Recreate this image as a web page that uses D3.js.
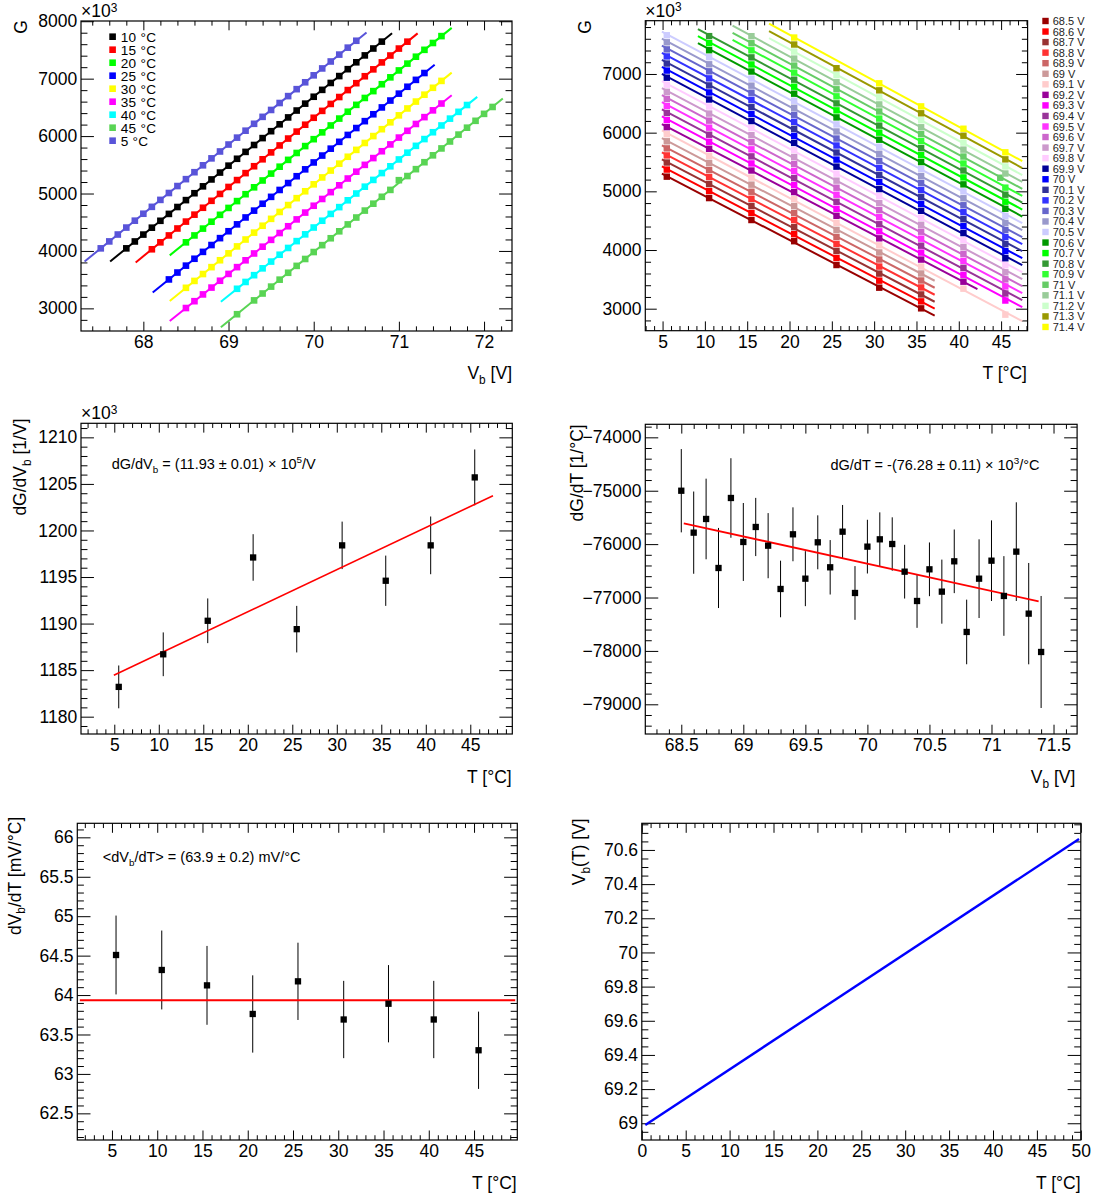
<!DOCTYPE html>
<html><head><meta charset="utf-8">
<script src="https://cdn.jsdelivr.net/npm/d3@7"></script>
<style>body{margin:0;background:#fff}svg{display:block}</style>
</head><body>
<svg id="c" width="1094" height="1198"></svg>
<script>
// ===================== DATA =====================
// temperatures (nominal labels and measured values, °C)
const tempNominal  = [5, 10, 15, 20, 25, 30, 35, 40, 45];
const tempMeasured = [5.5, 10.5, 15.5, 20.55, 25.55, 30.6, 35.55, 40.55, 45.5];
// first bias voltage of each temperature scan (step 0.1 V)
const tempStartV   = [67.5, 67.8, 68.1, 68.5, 68.3, 68.5, 68.5, 69.1, 69.1];
// gain G (x10^3) measured along each scan
const gainT5  = [4045,4166,4286,4407,4527,4648,4768,4889,5009,5130,5250,5371,5491,5612,5732,5853,5973,6094,6214,6335,6455,6576,6696,6817,6937,7058,7178,7299,7419,7540,7660];
const gainT10 = [4045,4165,4285,4405,4525,4645,4765,4885,5005,5125,5245,5365,5485,5605,5725,5845,5965,6085,6205,6325,6445,6565,6685,6805,6925,7045,7165,7285,7405,7525,7645];
const gainT15 = [4029,4150,4270,4391,4511,4632,4752,4873,4993,5114,5234,5355,5475,5596,5716,5837,5957,6078,6198,6319,6439,6560,6680,6801,6921,7042,7162,7283,7403,7524,7644];
const gainT20 = [4150,4270,4389,4509,4629,4749,4868,4988,5108,5227,5347,5467,5586,5706,5826,5946,6065,6185,6305,6424,6544,6664,6783,6903,7023,7143,7262,7382,7502,7621,7741];
const gainT25 = [3504,3624,3744,3864,3984,4103,4223,4343,4463,4583,4702,4822,4942,5062,5182,5301,5421,5541,5661,5781,5900,6020,6140,6260,6380,6499,6619,6739,6859,6979,7098];
const gainT30 = [3358,3478,3598,3718,3838,3958,4079,4199,4319,4439,4559,4679,4799,4919,5039,5160,5280,5400,5520,5640,5760,5880,6000,6120,6240,6361,6481,6601,6721,6841,6961];
const gainT35 = [3006,3125,3243,3362,3481,3600,3718,3837,3956,4074,4193,4312,4430,4549,4668,4787,4905,5024,5143,5261,5380,5499,5617,5736,5855,5974,6092,6211,6330,6448,6567];
const gainT40 = [3341,3460,3578,3697,3815,3934,4052,4171,4289,4408,4526,4645,4763,4882,5000,5119,5237,5356,5474,5593,5711,5830,5948,6067,6185,6304,6422,6541];
const gainT45 = [2898,null,3139,3259,3379,3500,3620,3740,3860,3981,4101,4221,4342,4462,4582,4703,4823,4943,5063,5232,5304,5424,5545,5665,5785,5906,6026,6146,6266,6387,6507];
const gainByTemp = [gainT5, gainT10, gainT15, gainT20, gainT25, gainT30, gainT35, gainT40, gainT45];
// one point taken at a deviating temperature
const overrideTempIdx = 8, overrideV = 71.0, overrideT = 44.9;
// fit ranges
const scanFitLoExt = 0.19, scanFitHiExt = 0.12;          // V beyond first/last point
const vFitLoByFirstTemp = [4.92, 9.18, 13.27, 17.58];     // °C
const vFitHiByLastTemp  = {6: 37.15, 7: 42.2, 8: 47.5};   // °C

// bias voltages of panel 2
const voltages = [68.5,68.6,68.7,68.8,68.9,69.0,69.1,69.2,69.3,69.4,69.5,69.6,69.7,69.8,69.9,70.0,70.1,70.2,70.3,70.4,70.5,70.6,70.7,70.8,70.9,71.0,71.1,71.2,71.3,71.4];
const voltageLabels = ["68.5 V","68.6 V","68.7 V","68.8 V","68.9 V","69 V","69.1 V","69.2 V","69.3 V","69.4 V","69.5 V","69.6 V","69.7 V","69.8 V","69.9 V","70 V","70.1 V","70.2 V","70.3 V","70.4 V","70.5 V","70.6 V","70.7 V","70.8 V","70.9 V","71 V","71.1 V","71.2 V","71.3 V","71.4 V"];

// panel 3: dG/dVb vs T
const slopeT    = [5.5, 10.5, 15.5, 20.6, 25.5, 30.6, 35.5, 40.55, 45.5];
const slopeGV   = [1183.2, 1186.7, 1190.3, 1197.1, 1189.4, 1198.4, 1194.6, 1198.4, 1205.7];
const slopeGVEr = [2.3, 2.35, 2.4, 2.5, 2.5, 2.55, 2.7, 3.1, 3.0];
const slopeGVFitRange = [4.95, 47.55];

// panel 4: dG/dT vs Vb
const slopeGT   = [-75000,-75785,-75529,-76447,-75136,-75960,-75679,-76029,-76840,-75816,-76647,-75966,-76434,-75767,-76915,-76047,-75910,-75998,-76516,-77065,-76472,-76890,-76322,-77645,-76647,-76310,-76971,-76141,-77302,-78020];
const slopeGTEr = [780,770,755,750,745,730,545,610,530,505,515,505,510,500,503,503,505,500,503,503,503,600,596,605,737,755,746,924,949,1049];
const slopeGTFitRange = [68.52, 71.38];

// panel 5: dVb/dT vs T
const dvdtT   = [5.45, 10.5, 15.5, 20.55, 25.55, 30.6, 35.55, 40.55, 45.5];
const dvdt    = [64.508, 64.318, 64.123, 63.76, 64.174, 63.69, 63.89, 63.69, 63.30];
const dvdtEr  = [0.5, 0.5, 0.5, 0.49, 0.49, 0.49, 0.49, 0.49, 0.49];
const dvdtFitRange = [1.45, 49.55];

// panel 6: Vb(T)
const vbCurveT = [0.4, 49.8];
const vbCurveV = [68.99, 70.664];

// ===================== STYLE =====================
const tempColors = ["#5954d9","#000000","#ff0000","#00ff00","#0000ff","#ffff00","#ff00ff","#00ffff","#59d454"];
const voltColors = ["#990000","#ff0000","#993333","#ff3333","#cc6666","#cc9999","#ffcccc","#990099","#ff00ff","#993399","#ff33ff","#cc66cc","#cc99cc","#ffccff","#000099","#0000ff","#333399","#3333ff","#6666cc","#9999cc","#ccccff","#009900","#00ff00","#339933","#33ff33","#66cc66","#99cc99","#ccffcc","#999900","#ffff00"];
const FONT = "'Liberation Sans', Arial, Helvetica, sans-serif";
const LBL = 17.5;

const svg = d3.select("#c").attr("font-family", FONT);
let clipN = 0;

function stepTicks(domain, step) {
  const lo = Math.ceil(domain[0] / step - 1e-7), hi = Math.floor(domain[1] / step + 1e-7);
  return d3.range(lo, hi + 1).map(k => +(k * step).toFixed(6));
}

function rich(sel, parts, size, supRaise) {
  const up = supRaise == null ? 0.4 : supRaise;
  let cur = 0;
  parts.forEach(p => {
    const [t, m] = Array.isArray(p) ? p : [p, 0];
    const target = m === 1 ? 0.28 * size : m === 2 ? -up * size : 0;
    const ts = sel.append("tspan").text(t).attr("font-size", m ? size * 0.68 : size);
    if (target - cur !== 0) ts.attr("dy", target - cur);
    cur = target;
  });
  return sel;
}

function panel(c) {
  const xs = d3.scaleLinear().domain(c.xd).range([c.x0, c.x1]);
  const ys = d3.scaleLinear().domain(c.yd).range([c.y1, c.y0]);
  const g = svg.append("g");
  const W = c.x1 - c.x0, H = c.y1 - c.y0;
  const xt = 0.03 * H, yt = 0.03 * W;
  const xMaj = stepTicks(c.xd, c.xMaj), xMin = stepTicks(c.xd, c.xMin).filter(v => !xMaj.some(m => Math.abs(m - v) < 1e-6));
  const yMaj = stepTicks(c.yd, c.yMaj), yMin = stepTicks(c.yd, c.yMin).filter(v => !yMaj.some(m => Math.abs(m - v) < 1e-6));
  const axes = [
    [d3.axisBottom(xs).tickValues(xMaj).tickSize(-xt).tickPadding(4.8).tickFormat(c.xFmt || (d => d)), `translate(0,${c.y1})`],
    [d3.axisBottom(xs).tickValues(xMin).tickSize(-xt / 2).tickFormat(""), `translate(0,${c.y1})`],
    [d3.axisTop(xs).tickValues(xMaj).tickSize(-xt).tickFormat(""), `translate(0,${c.y0})`],
    [d3.axisTop(xs).tickValues(xMin).tickSize(-xt / 2).tickFormat(""), `translate(0,${c.y0})`],
    [d3.axisLeft(ys).tickValues(yMaj).tickSize(-yt).tickPadding(3.8).tickFormat(c.yFmt || (d => d)), `translate(${c.x0},0)`],
    [d3.axisLeft(ys).tickValues(yMin).tickSize(-yt / 2).tickFormat(""), `translate(${c.x0},0)`],
    [d3.axisRight(ys).tickValues(yMaj).tickSize(-yt).tickFormat(""), `translate(${c.x1},0)`],
    [d3.axisRight(ys).tickValues(yMin).tickSize(-yt / 2).tickFormat(""), `translate(${c.x1},0)`]
  ];
  axes.forEach(([ax, tr]) => {
    const a = g.append("g").attr("transform", tr).call(ax);
    a.select(".domain").remove();
    a.attr("font-family", FONT).attr("font-size", LBL).attr("color", "#000");
    a.selectAll("line").attr("stroke-width", 1);
    a.selectAll("text").attr("fill", "#000");
  });
  g.append("rect").attr("x", c.x0).attr("y", c.y0).attr("width", W).attr("height", H)
    .attr("fill", "none").attr("stroke", "#000").attr("stroke-width", 1.2);
  const id = "clp" + (clipN++);
  svg.append("clipPath").attr("id", id).append("rect").attr("x", c.x0).attr("y", c.y0).attr("width", W).attr("height", H);
  const plot = svg.append("g").attr("clip-path", `url(#${id})`);
  // titles
  if (c.exp) {
    rich(svg.append("text").attr("x", c.x0).attr("y", c.y0 - 4).attr("fill", "#000"), ["\u00d710", ["3", 2]], LBL, 0.3);
  }
  rich(svg.append("text").attr("text-anchor", "end").attr("fill", "#000")
    .attr("transform", `translate(${c.yTitle[0]},${c.yTitle[1]}) rotate(-90)`), c.yTitleParts, LBL);
  rich(svg.append("text").attr("text-anchor", "end").attr("fill", "#000")
    .attr("x", c.xTitle[0]).attr("y", c.xTitle[1]), c.xTitleParts, LBL);
  return { xs, ys, plot, g };
}

function linFit(X, Y, Wt) {
  let S = 0, Sx = 0, Sy = 0, Sxx = 0, Sxy = 0;
  X.forEach((x, i) => {
    const w = Wt ? Wt[i] : 1, y = Y[i];
    S += w; Sx += w * x; Sy += w * y; Sxx += w * x * x; Sxy += w * x * y;
  });
  const b = (S * Sxy - Sx * Sy) / (S * Sxx - Sx * Sx);
  return { a: (Sy - b * Sx) / S, b };
}

function squares(sel, pts, xs, ys, size, color) {
  sel.selectAll(null).data(pts).enter().append("rect")
    .attr("x", d => xs(d[0]) - size / 2).attr("y", d => ys(d[1]) - size / 2)
    .attr("width", size).attr("height", size).attr("fill", color);
}
function errBars(sel, X, Y, E, xs, ys) {
  sel.selectAll(null).data(X).enter().append("line")
    .attr("x1", (d) => xs(d)).attr("x2", d => xs(d))
    .attr("y1", (d, i) => ys(Y[i] - E[i])).attr("y2", (d, i) => ys(Y[i] + E[i]))
    .attr("stroke", "#000").attr("stroke-width", 1);
}
const lineGen = (xs, ys) => d3.line().x(d => xs(d[0])).y(d => ys(d[1]));

// ===== scan points (shared by panels 1 & 2) =====
const scans = gainByTemp.map((arr, ti) => arr.map((gv, k) => {
  const v = Math.round((tempStartV[ti] + 0.1 * k) * 10) / 10;
  const t = (ti === overrideTempIdx && Math.abs(v - overrideV) < 1e-6) ? overrideT : tempMeasured[ti];
  return gv == null ? null : { v, t, g: gv };
}).filter(d => d));

// ===================== PANEL 1 =====================
{
  const P = panel({ x0: 81, x1: 512, y0: 21, y1: 331, xd: [67.268, 72.328], yd: [2606, 8004],
    xMaj: 1, xMin: 0.2, yMaj: 1000, yMin: 200, exp: true,
    yTitle: [27, 20], yTitleParts: ["G"], xTitle: [512, 379], xTitleParts: ["V", ["b", 1], "  [V]"] });
  const order = [1, 2, 3, 4, 5, 6, 7, 8, 0];
  order.forEach(ti => {
    const pts = scans[ti];
    const f = linFit(pts.map(d => d.v), pts.map(d => d.g));
    const lo = pts[0].v - scanFitLoExt, hi = pts[pts.length - 1].v + scanFitHiExt;
    P.plot.append("path").datum([[lo, f.a + f.b * lo], [hi, f.a + f.b * hi]])
      .attr("d", lineGen(P.xs, P.ys)).attr("stroke", tempColors[ti]).attr("stroke-width", 2).attr("fill", "none");
    squares(P.plot, pts.map(d => [d.v, d.g]), P.xs, P.ys, 6.6, tempColors[ti]);
  });
  const leg = svg.append("g");
  order.forEach((ti, i) => {
    const y = 36.7 + 13 * i;
    leg.append("rect").attr("x", 109.3).attr("y", y - 3.3).attr("width", 6.6).attr("height", 6.6).attr("fill", tempColors[ti]);
    leg.append("text").attr("x", 120.7).attr("y", y + 4.8).attr("font-size", 13.6).attr("letter-spacing", 0.3)
      .attr("fill", "#000").text(tempNominal[ti] + " \u00b0C");
  });
}

// ===================== PANEL 2 =====================
{
  const P = panel({ x0: 645.3, x1: 1027.6, y0: 20.7, y1: 330.7, xd: [2.96, 48.13], yd: [2625, 7908],
    xMaj: 5, xMin: 1, yMaj: 1000, yMin: 200, exp: true,
    yTitle: [591, 20], yTitleParts: ["G"], xTitle: [1027, 379], xTitleParts: ["T [\u00b0C]"] });
  voltages.forEach((v, j) => {
    const pts = [], tis = [];
    scans.forEach((s, ti) => s.forEach(d => { if (Math.abs(d.v - v) < 1e-6) { pts.push([d.t, d.g]); tis.push(ti); } }));
    const f = linFit(pts.map(d => d[0]), pts.map(d => d[1]));
    const lo = vFitLoByFirstTemp[tis[0]], hi = vFitHiByLastTemp[tis[tis.length - 1]];
    P.plot.append("path").datum([[lo, f.a + f.b * lo], [hi, f.a + f.b * hi]])
      .attr("d", lineGen(P.xs, P.ys)).attr("stroke", voltColors[j]).attr("stroke-width", 2).attr("fill", "none");
    squares(P.plot, pts, P.xs, P.ys, 6.4, voltColors[j]);
  });
  const leg = svg.append("g");
  voltageLabels.forEach((lab, j) => {
    const y = 21 + 10.55 * j;
    leg.append("rect").attr("x", 1042.3).attr("y", y - 3.2).attr("width", 6.4).attr("height", 6.4).attr("fill", voltColors[j]);
    leg.append("text").attr("x", 1052.7).attr("y", y + 4).attr("font-size", 11).attr("fill", "#222").text(lab);
  });
}

// ===================== PANEL 3 =====================
{
  const P = panel({ x0: 81, x1: 512.3, y0: 423.3, y1: 734, xd: [1.26, 49.72], yd: [1178.14, 1211.51],
    xMaj: 5, xMin: 1, yMaj: 5, yMin: 1, exp: true,
    yTitle: [26, 418.5], yTitleParts: ["dG/dV", ["b", 1], " [1/V]"], xTitle: [511.7, 782.7], xTitleParts: ["T [\u00b0C]"] });
  const f = linFit(slopeT, slopeGV, slopeGVEr.map(e => 1 / (e * e)));
  errBars(P.plot, slopeT, slopeGV, slopeGVEr, P.xs, P.ys);
  P.plot.append("path").datum(slopeGVFitRange.map(t => [t, f.a + f.b * t]))
    .attr("d", lineGen(P.xs, P.ys)).attr("stroke", "#ff0000").attr("stroke-width", 1.6).attr("fill", "none");
  squares(P.plot, slopeT.map((t, i) => [t, slopeGV[i]]), P.xs, P.ys, 6.3, "#000");
  rich(svg.append("text").attr("x", 111.7).attr("y", 468.5).attr("fill", "#000"),
    ["dG/dV", ["b", 1], " = (11.93 \u00b1 0.01) \u00d7 10", ["5", 2], "/V"], 14.5);
}

// ===================== PANEL 4 =====================
{
  const P = panel({ x0: 645.3, x1: 1077.1, y0: 424.3, y1: 734, xd: [68.21, 71.69], yd: [-79556, -73756],
    xMaj: 0.5, xMin: 0.1, yMaj: 1000, yMin: 200,
    xFmt: d => String(+d.toFixed(1)), yFmt: d => "\u2212" + Math.abs(d),
    yTitle: [583, 424.3], yTitleParts: ["dG/dT [1/\u00b0C]"], xTitle: [1075.3, 783.3], xTitleParts: ["V", ["b", 1], " [V]"] });
  const f = linFit(voltages, slopeGT, slopeGTEr.map(e => 1 / (e * e)));
  errBars(P.plot, voltages, slopeGT, slopeGTEr, P.xs, P.ys);
  P.plot.append("path").datum(slopeGTFitRange.map(v => [v, f.a + f.b * v]))
    .attr("d", lineGen(P.xs, P.ys)).attr("stroke", "#ff0000").attr("stroke-width", 1.8).attr("fill", "none");
  squares(P.plot, voltages.map((v, i) => [v, slopeGT[i]]), P.xs, P.ys, 6.3, "#000");
  rich(svg.append("text").attr("x", 830.5).attr("y", 470).attr("fill", "#000"),
    ["dG/dT = -(76.28 \u00b1 0.11) \u00d7 10", ["3", 2], "/\u00b0C"], 14.5);
}

// ===================== PANEL 5 =====================
{
  const P = panel({ x0: 77.3, x1: 517.3, y0: 823.3, y1: 1140, xd: [1.17, 49.78], yd: [62.162, 66.178],
    xMaj: 5, xMin: 1, yMaj: 0.5, yMin: 0.1, yFmt: d => String(+d.toFixed(1)),
    yTitle: [20.5, 816.7], yTitleParts: ["dV", ["b", 1], "/dT [mV/\u00b0C]"], xTitle: [516.7, 1189.3], xTitleParts: ["T [\u00b0C]"] });
  const w = dvdtEr.map(e => 1 / (e * e));
  const mean = d3.sum(dvdt.map((v, i) => v * w[i])) / d3.sum(w);
  errBars(P.plot, dvdtT, dvdt, dvdtEr, P.xs, P.ys);
  P.plot.append("path").datum(dvdtFitRange.map(t => [t, mean]))
    .attr("d", lineGen(P.xs, P.ys)).attr("stroke", "#ff0000").attr("stroke-width", 2).attr("fill", "none");
  squares(P.plot, dvdtT.map((t, i) => [t, dvdt[i]]), P.xs, P.ys, 6.3, "#000");
  rich(svg.append("text").attr("x", 102.7).attr("y", 862).attr("fill", "#000"),
    ["<dV", ["b", 1], "/dT> = (63.9 \u00b1 0.2) mV/\u00b0C"], 14.5);
}

// ===================== PANEL 6 =====================
{
  const P = panel({ x0: 641.8, x1: 1080.8, y0: 823.3, y1: 1140, xd: [0, 50], yd: [68.902, 70.756],
    xMaj: 5, xMin: 1, yMaj: 0.2, yMin: 0.05, yFmt: d => String(+d.toFixed(2)),
    yTitle: [585, 818.3], yTitleParts: ["V", ["b", 1], "(T) [V]"], xTitle: [1080.6, 1189.3], xTitleParts: ["T [\u00b0C]"] });
  P.plot.append("path").datum(vbCurveT.map((t, i) => [t, vbCurveV[i]]))
    .attr("d", lineGen(P.xs, P.ys)).attr("stroke", "#0000ff").attr("stroke-width", 2.4).attr("fill", "none");
}
</script>
</body></html>
